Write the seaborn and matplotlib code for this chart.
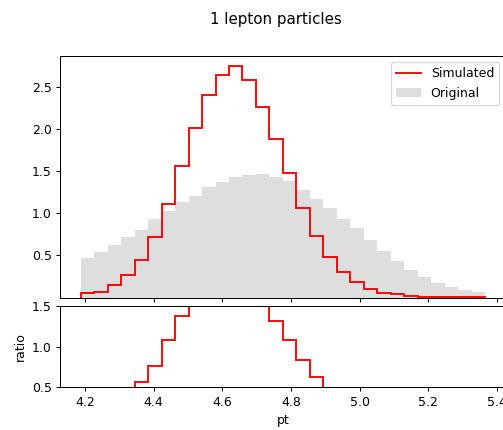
import numpy as np
import pandas as pd
import matplotlib
matplotlib.use("Agg")
import matplotlib.pyplot as plt
from matplotlib.lines import Line2D
from matplotlib.patches import Patch
import seaborn as sns

# Binning of the lepton pt distribution (30 equal bins)
bin_lo, bin_hi, n_bins = 4.1875, 5.366, 30

# Normalised bin contents
simulated = [0.050, 0.071, 0.153, 0.262, 0.452, 0.718, 1.107, 1.563, 2.020, 2.409,
             2.643, 2.750, 2.587, 2.264, 1.889, 1.484, 1.060, 0.726, 0.480, 0.302,
             0.183, 0.099, 0.056, 0.036, 0.020, 0.008, 0.008, 0.003, 0.003, 0.003]
original = [0.472, 0.540, 0.627, 0.718, 0.802, 0.940, 1.028, 1.131, 1.210, 1.310,
            1.369, 1.437, 1.452, 1.464, 1.433, 1.381, 1.274, 1.175, 1.063, 0.929,
            0.825, 0.690, 0.552, 0.433, 0.333, 0.242, 0.175, 0.123, 0.091, 0.063]

main_yticks = [0.5, 1.0, 1.5, 2.0, 2.5]
ratio_yticks = [0.5, 1.0, 1.5]
x_ticks = [4.2, 4.4, 4.6, 4.8, 5.0, 5.2, 5.4]

edges = np.linspace(bin_lo, bin_hi, n_bins + 1)
centers = 0.5 * (edges[:-1] + edges[1:])
sim = np.asarray(simulated)
orig = np.asarray(original)
ratio = sim / orig
df = pd.DataFrame({"pt": centers, "original": orig})

W, H, DPI = 504, 430, 90
fig = plt.figure(figsize=(W / DPI, H / DPI), dpi=DPI)
left, right = 60.5 / W, 505.3 / W
ax = fig.add_axes([left, 1 - 297.5 / H, right - left, (297.5 - 56) / H])
axr = fig.add_axes([left, 1 - 387 / H, right - left, (387 - 306) / H])

grey = "#dedede"
sns.histplot(data=df, x="pt", weights="original", bins=n_bins, binrange=(bin_lo, bin_hi),
             element="step", fill=True, color=grey, alpha=1.0, linewidth=0, ax=ax)
ax.stairs(sim, edges, color="red", linewidth=1.5, baseline=0)

span = edges[-1] - edges[0]
xlim = (edges[0] - 0.05 * span, edges[-1] + 0.05 * span)
ax.set_xlim(*xlim)
ax.set_ylim(0, sim.max() * 1.045)
ax.set_yticks(main_yticks)
ax.set_xticks(x_ticks)
ax.tick_params(axis="x", labelbottom=False)
ax.set_xlabel("")
ax.set_ylabel("")

handles = [Line2D([], [], color="red", linewidth=1.5), Patch(facecolor=grey, edgecolor="none")]
ax.legend(handles, ["Simulated", "Original"], loc="upper right")

axr.stairs(ratio, edges, color="red", linewidth=1.5, baseline=None)
axr.set_xlim(*xlim)
axr.set_ylim(0.5, 1.5)
axr.set_yticks(ratio_yticks)
axr.set_xticks(x_ticks)
axr.set_ylabel("ratio")
axr.set_xlabel("pt")

fig.suptitle("1 lepton particles", x=276 / W, y=0.972)
fig.savefig("out.png", dpi=DPI)
